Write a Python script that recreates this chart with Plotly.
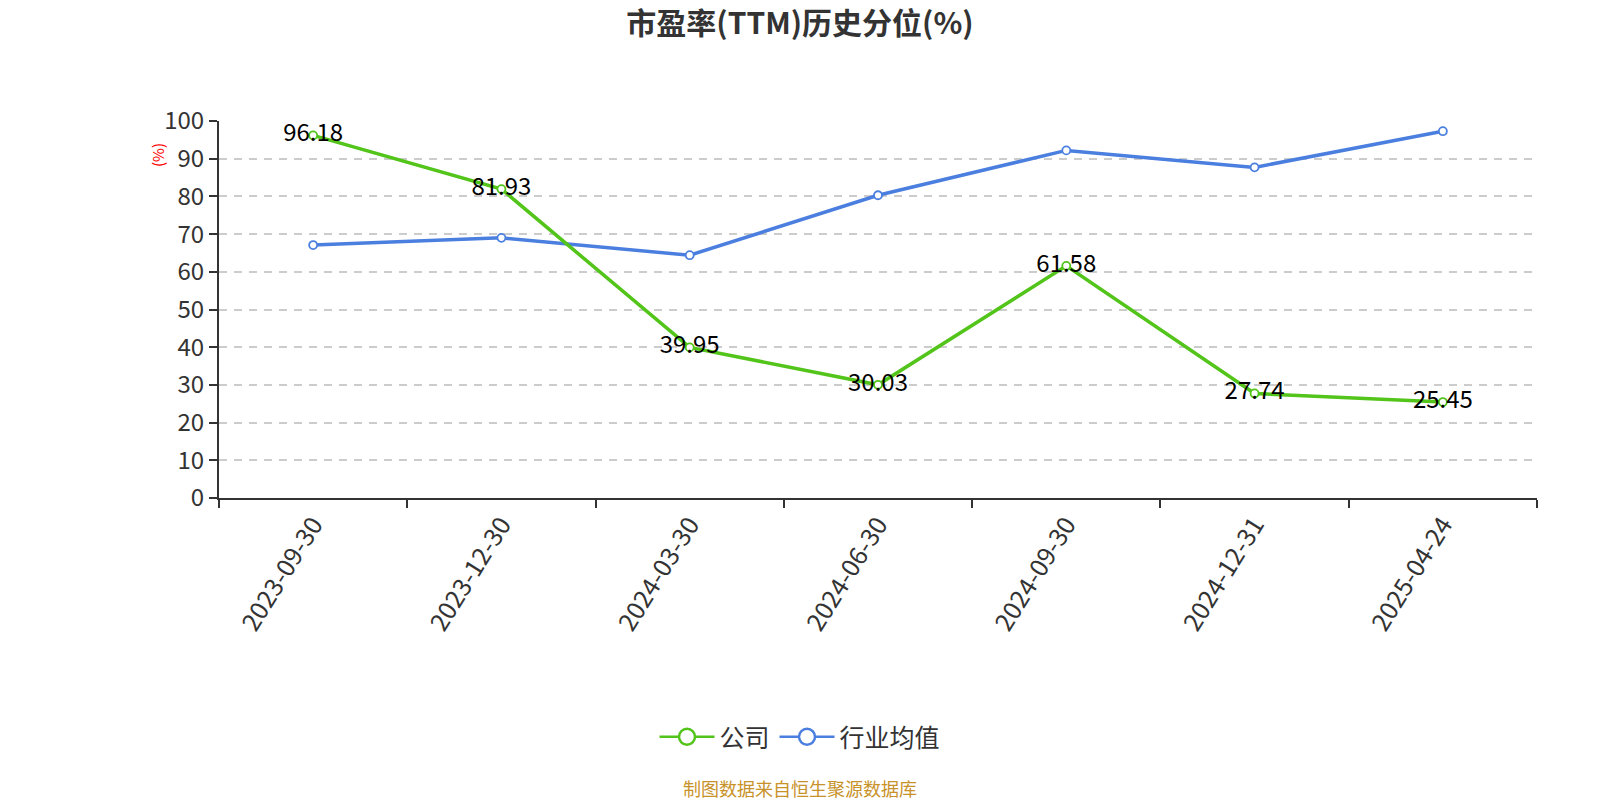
import plotly.graph_objects as go

categories = ["2023-09-30", "2023-12-30", "2024-03-30", "2024-06-30", "2024-09-30", "2024-12-31", "2025-04-24"]
company = [96.18, 81.93, 39.95, 30.03, 61.58, 27.74, 25.45]
industry = [67.1, 69.0, 64.4, 80.3, 92.2, 87.7, 97.3]
company_name = "公司"
industry_name = "行业均值"
y_ticks = [0, 10, 20, 30, 40, 50, 60, 70, 80, 90, 100]

GREEN = "#52c41a"
BLUE = "#4b7fdf"
FONT = "Noto Sans CJK SC"

W, H = 1600, 800
L, R, T, B = 219, 63, 121, 302
PH = H - T - B
PW = W - L - R


def py(pix):
    """pixel-from-top -> paper y"""
    return (H - B - pix) / PH


def px(pix):
    return (pix - L) / PW


fig = go.Figure()

fig.add_trace(go.Scatter(
    x=categories, y=industry, mode="lines+markers", showlegend=False,
    line=dict(color=BLUE, width=3.5),
    marker=dict(symbol="circle", size=8, color="white", line=dict(color=BLUE, width=1.8)),
))
fig.add_trace(go.Scatter(
    x=categories, y=company, mode="lines+markers+text", showlegend=False,
    text=[f"{v:.2f}" for v in company], textposition="middle center",
    textfont=dict(family=FONT, size=24, color="#000000"),
    line=dict(color=GREEN, width=3.5),
    marker=dict(symbol="circle", size=8, color="white", line=dict(color=GREEN, width=1.8)),
))

# legend-only entries
fig.add_trace(go.Scatter(
    x=[None], y=[None], mode="lines+markers", name=company_name,
    line=dict(color=GREEN, width=2.5),
    marker=dict(symbol="circle", size=22, color="white", line=dict(color=GREEN, width=2.5)),
))
fig.add_trace(go.Scatter(
    x=[None], y=[None], mode="lines+markers", name=industry_name,
    line=dict(color=BLUE, width=2.5),
    marker=dict(symbol="circle", size=22, color="white", line=dict(color=BLUE, width=2.5)),
))

fig.update_layout(
    width=W, height=H,
    paper_bgcolor="white", plot_bgcolor="white",
    margin=dict(l=L, r=R, t=T, b=B, autoexpand=False),
    font=dict(family=FONT, color="#333333"),
    title=dict(text="<b>市盈率(TTM)历史分位(%)</b>", x=0.5, xanchor="center",
               y=1 - 23 / H, yanchor="middle", yref="container",
               font=dict(size=30, color="#333333", family=FONT)),
    legend=dict(orientation="h", x=px(800), xanchor="center", xref="paper",
                y=py(737), yanchor="middle",
                font=dict(size=25, color="#333333", family=FONT),
                itemwidth=55, tracegroupgap=0, bgcolor="rgba(0,0,0,0)"),
    showlegend=True,
)

fig.update_xaxes(
    type="category", categoryorder="array", categoryarray=categories,
    range=[-0.5, len(categories) - 0.5],
    showline=True, linecolor="#333333", linewidth=2,
    ticks="outside", tickson="boundaries", ticklen=8, tickwidth=2, tickcolor="#333333",
    tickangle=-58, tickfont=dict(size=25, color="#333333", family=FONT),
    showgrid=False, zeroline=False,
)
fig.update_yaxes(
    range=[0, 100], tickvals=y_ticks, ticktext=[str(v) for v in y_ticks],
    showline=True, linecolor="#333333", linewidth=2,
    ticks="outside", ticklen=8, tickwidth=2, tickcolor="#333333",
    tickfont=dict(size=24, color="#333333", family=FONT),
    showgrid=True, gridcolor="#cccccc", griddash="8px,7px", gridwidth=1.5,
    zeroline=False,
)

fig.add_annotation(
    text="(%)", xref="paper", yref="paper", x=px(157), y=py(155),
    xanchor="center", yanchor="middle",
    showarrow=False, textangle=-90,
    font=dict(size=15, color="red", family=FONT),
)
fig.add_annotation(
    text="制图数据来自恒生聚源数据库", xref="paper", yref="paper",
    x=px(800), xanchor="center", y=py(788), yanchor="middle",
    showarrow=False, font=dict(size=18, color="#c8922a", family=FONT),
)

fig.write_html(
    "out.html",
    config={"displayModeBar": False},
    post_script="document.body.style.margin='0';document.body.style.overflow='hidden';",
)
